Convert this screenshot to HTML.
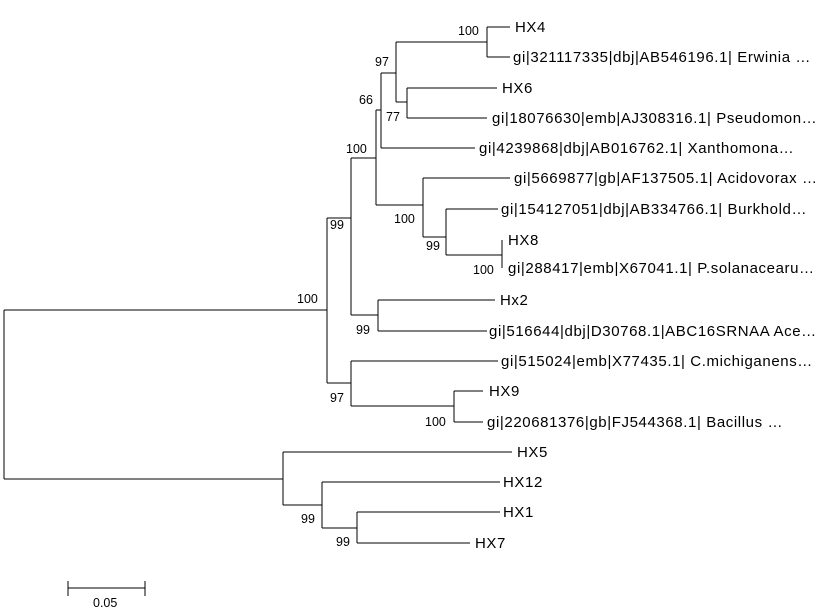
<!DOCTYPE html>
<html><head><meta charset="utf-8"><style>
html,body{margin:0;padding:0;background:#fff;width:818px;height:611px;overflow:hidden}
svg{display:block}
.l{font-family:"Liberation Sans",Arial,sans-serif;font-size:15px;letter-spacing:0.6px;fill:#000}
.b{font-family:"Liberation Sans",Arial,sans-serif;font-size:12.5px;fill:#000}
</style></head><body>
<svg width="818" height="611" viewBox="0 0 818 611" xmlns="http://www.w3.org/2000/svg">
<g stroke="#000" stroke-width="1.3" fill="none" shape-rendering="crispEdges">
<path d="M4 310 V479 M4 310 H327 M4 479 H283"/>
<path d="M327 218 V383 M327 218 H351 M327 383 H351"/>
<path d="M351 158 V315 M351 158 H376 M351 315 H378"/>
<path d="M376 110 V205 M376 110 H381 M376 205 H423"/>
<path d="M381 73 V148 M381 73 H396 M381 148 H475"/>
<path d="M396 42 V102 M396 42 H487 M396 102 H407"/>
<path d="M487 27 V57 M487 27 H510 M487 57 H510"/>
<path d="M407 88 V118 M407 88 H497 M407 118 H487"/>
<path d="M423 178 V237 M423 178 H510 M423 237 H446"/>
<path d="M446 209 V255 M446 209 H498 M446 255 H502"/>
<path d="M502 240 V268"/>
<path d="M378 300 V331 M378 300 H495 M378 331 H487"/>
<path d="M351 361 V406 M351 361 H498 M351 406 H454"/>
<path d="M454 391 V422 M454 391 H483 M454 422 H483"/>
<path d="M283 452 V505 M283 452 H512 M283 505 H322"/>
<path d="M322 482 V528 M322 482 H500 M322 528 H357"/>
<path d="M357 512 V543 M357 512 H500 M357 543 H470"/>
<path d="M68 588 H145 M68 581 V596 M145 581 V596"/>
</g>
<g class="l">
<text x="515" y="32">HX4</text>
<text x="513" y="62">gi|321117335|dbj|AB546196.1| Erwinia …</text>
<text x="502" y="93">HX6</text>
<text x="492" y="123">gi|18076630|emb|AJ308316.1| Pseudomon…</text>
<text x="479" y="153">gi|4239868|dbj|AB016762.1| Xanthomona…</text>
<text x="514" y="183">gi|5669877|gb|AF137505.1| Acidovorax …</text>
<text x="501" y="214">gi|154127051|dbj|AB334766.1| Burkhold…</text>
<text x="508" y="245">HX8</text>
<text x="508" y="273">gi|288417|emb|X67041.1| P.solanacearu…</text>
<text x="500" y="305">Hx2</text>
<text x="489" y="336">gi|516644|dbj|D30768.1|ABC16SRNAA Ace…</text>
<text x="501" y="366">gi|515024|emb|X77435.1| C.michiganens…</text>
<text x="489" y="396">HX9</text>
<text x="487" y="427">gi|220681376|gb|FJ544368.1| Bacillus …</text>
<text x="517" y="457">HX5</text>
<text x="503" y="487">HX12</text>
<text x="503" y="517">HX1</text>
<text x="475" y="548">HX7</text>
</g>
<g class="b">
<text x="458" y="35">100</text>
<text x="375" y="66">97</text>
<text x="359" y="104">66</text>
<text x="386" y="121">77</text>
<text x="346" y="153">100</text>
<text x="394" y="223">100</text>
<text x="426" y="250">99</text>
<text x="473" y="274">100</text>
<text x="330" y="229">99</text>
<text x="297" y="303">100</text>
<text x="356" y="334">99</text>
<text x="330" y="402">97</text>
<text x="425" y="426">100</text>
<text x="301" y="523">99</text>
<text x="336" y="546">99</text>
<text x="93" y="607">0.05</text>
</g>
</svg>
</body></html>
